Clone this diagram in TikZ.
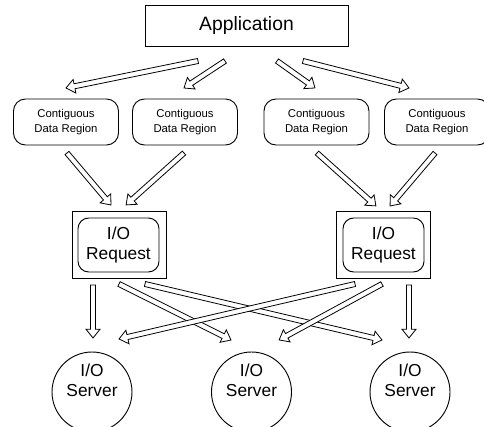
\documentclass[tikz,border=0pt]{standalone}
\usepackage{fontspec}
\setmainfont{Liberation Sans}
\usetikzlibrary{calc}

\def\px{0.75pt}

% hollow block arrow from one named point to another
\newcommand\hollowarrow[2]{%
  \path let \p1=(#1), \p2=(#2) in \pgfextra{%
    \pgfmathsetmacro\harang{atan2(\y2-\y1,\x2-\x1)}%
    \pgfmathsetmacro\harlen{veclen(\x2-\x1,\y2-\y1)}%
    \global\let\harang\harang \global\let\harlen\harlen};
  \draw[hollow, shift={(#1)}, rotate=\harang]
    (0pt,-1.9pt) -- ({\harlen pt-6.5pt},-1.9pt) -- ({\harlen pt-6.5pt},-5.2pt)
    -- (\harlen pt,0pt) -- ({\harlen pt-6.5pt},5.2pt) -- ({\harlen pt-6.5pt},1.9pt)
    -- (0pt,1.9pt) -- cycle;}

\tikzset{
  hollow/.style={draw=black, fill=white, line width=0.6pt, line join=miter},
  appbox/.style={draw, line width=0.7pt, minimum width=203*\px, minimum height=41*\px,
    inner sep=0pt, font=\fontsize{14.5pt}{17pt}\selectfont},
  regionbox/.style={draw, line width=0.7pt, rounded corners=9pt, minimum width=105*\px,
    minimum height=46*\px, inner sep=0pt, align=center,
    font=\fontsize{8.5pt}{11.2pt}\selectfont},
  reqouter/.style={draw, line width=0.7pt, minimum width=94*\px, minimum height=67*\px, inner sep=0pt},
  reqinner/.style={draw, line width=0.7pt, rounded corners=8pt, minimum width=81*\px,
    minimum height=54*\px, inner sep=0pt, align=center,
    font=\fontsize{13pt}{15pt}\selectfont},
  server/.style={draw, line width=0.7pt, circle, minimum size=80*\px, inner sep=0pt,
    align=center, font=\fontsize{13pt}{15pt}\selectfont},
}

\begin{document}
\begin{tikzpicture}[x=0.75pt, y=-0.75pt]
\useasboundingbox (0,0) rectangle (484,427);
\clip (0,0) rectangle (484,427);

% nodes
\node[appbox] (app) at (246.5,25.5) {Application};
\node[regionbox] (r1) at (66,122) {Contiguous\\Data Region};
\node[regionbox] (r2) at (185,122) {Contiguous\\Data Region};
\node[regionbox] (r3) at (316.5,122) {Contiguous\\Data Region};
\node[regionbox] (r4) at (437,122) {Contiguous\\Data Region};

\node[reqouter] (q1o) at (119,244.5) {};
\node[reqinner] (q1) at (118.5,245) {I/O\\Request};
\node[reqouter] (q2o) at (383.5,245) {};
\node[reqinner] (q2) at (383.5,245) {I/O\\Request};

\node[server] (s1) at (92,392) {I/O\\Server\\[3pt]};
\node[server] (s2) at (251.5,392) {I/O\\Server\\[3pt]};
\node[server] (s3) at (410,392) {I/O\\Server\\[3pt]};

% arrow end points
\coordinate (a1s) at (198,61);   \coordinate (a1e) at (66,88);
\coordinate (a2s) at (225,61);   \coordinate (a2e) at (184,88);
\coordinate (a3s) at (277,61);   \coordinate (a3e) at (315,88);
\coordinate (a4s) at (303,61);   \coordinate (a4e) at (409,88);

\coordinate (b1s) at (67,153);   \coordinate (b1e) at (111,205);
\coordinate (b2s) at (184,153);  \coordinate (b2e) at (126,205);
\coordinate (b3s) at (317,153);  \coordinate (b3e) at (376,206);
\coordinate (b4s) at (435,153);  \coordinate (b4e) at (390,206);

\coordinate (c1s) at (93,285);   \coordinate (c1e) at (93,338);
\coordinate (c2s) at (119,284);  \coordinate (c2e) at (231,340);
\coordinate (c3s) at (145,284);  \coordinate (c3e) at (382,340);
\coordinate (c4s) at (355,284);  \coordinate (c4e) at (119,339);
\coordinate (c5s) at (382,284);  \coordinate (c5e) at (279,340);
\coordinate (c6s) at (409,285);  \coordinate (c6e) at (409,338);

% application to regions
\hollowarrow{a1s}{a1e}
\hollowarrow{a2s}{a2e}
\hollowarrow{a3s}{a3e}
\hollowarrow{a4s}{a4e}

% regions to requests
\hollowarrow{b1s}{b1e}
\hollowarrow{b2s}{b2e}
\hollowarrow{b3s}{b3e}
\hollowarrow{b4s}{b4e}

% requests to servers
\hollowarrow{c1s}{c1e}
\hollowarrow{c2s}{c2e}
\hollowarrow{c3s}{c3e}
\hollowarrow{c4s}{c4e}
\hollowarrow{c5s}{c5e}
\hollowarrow{c6s}{c6e}
\end{tikzpicture}
\end{document}
